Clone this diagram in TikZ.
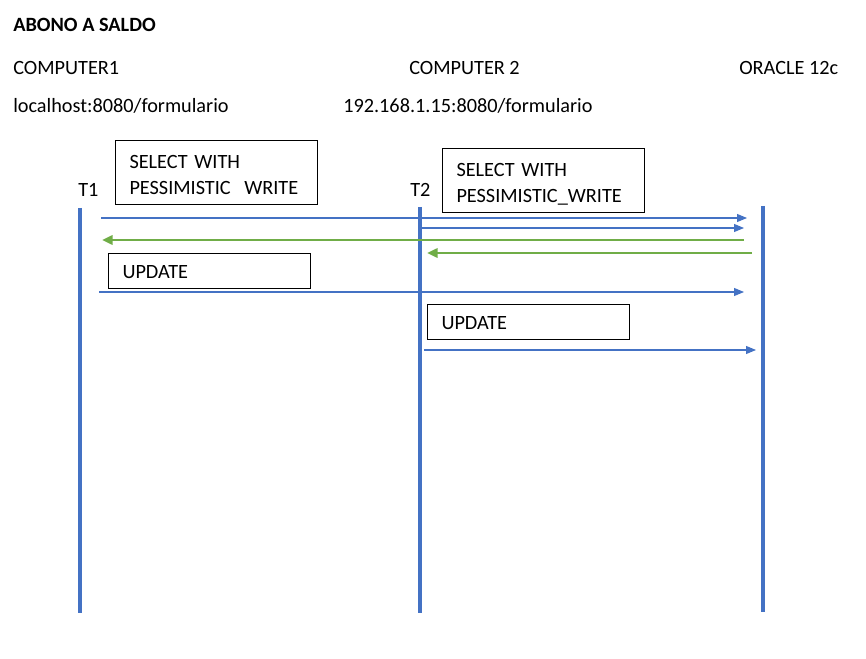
\documentclass[tikz,border=0pt]{standalone}
\usepackage{fontspec}
\setmainfont{Carlito}
\usetikzlibrary{arrows.meta, positioning}
\definecolor{lineblue}{HTML}{4472C4}
\definecolor{linegreen}{HTML}{70AD47}

\begin{document}
\begin{tikzpicture}[x=0.75pt,y=-0.75pt, font=\fontsize{15.2}{19.5}\selectfont,
    lbl/.style={anchor=base west, inner sep=0pt},
    note/.style={draw, line width=0.75pt, anchor=north west, align=left, text width=130.5pt, inner xsep=10.5pt, inner ysep=0pt},
    lifeline/.style={draw=lineblue, line width=2.4pt},
    req/.style={draw=lineblue, line width=0.8pt, -{Triangle[length=7.5pt,width=6pt]}},
    resp/.style={draw=linegreen, line width=1.9pt, -{Triangle[length=8pt,width=7pt]}}]
    \useasboundingbox (0,0) rectangle (866,659);
    \node[lbl, font=\fontsize{15.2}{19.5}\selectfont\bfseries] (title) at (13,32) {ABONO A SALDO};
    \node[lbl] (pc1) at (13,75) {COMPUTER1};
    \node[lbl] (pc2) at (409,75) {COMPUTER 2};
    \node[lbl] (db) at (739,75) {ORACLE 12c};
    \node[lbl] (url1) at (13,113) {localhost:8080/formulario};
    \node[lbl] (url2) at (343,113) {192.168.1.15:8080/formulario};
    \node[lbl] (t1) at (78,197) {T1};
    \node[lbl] (t2) at (410,197) {T2};
    \node[note, minimum height=48pt, text height=9pt, text depth=15pt] (sel1) at (115,140) {SELECT WITH\\PESSIMISTIC\ \ WRITE};
    \node[note, minimum height=48pt, text height=9pt, text depth=15pt] (sel2) at (442,148) {SELECT WITH\\PESSIMISTIC\_WRITE};
    \node[note, minimum height=26.25pt, text height=18pt, text depth=6.75pt] (upd1) at (108,253) {UPDATE};
    \node[note, minimum height=26.25pt, text height=18pt, text depth=6.75pt] (upd2) at (427,304) {UPDATE};
    \foreach \n/\x/\y in {t1top/80/208, t1bot/80/613, t2top/420/207, t2bot/420/613, dbtop/763/206, dbbot/763/612} {
        \coordinate (\n) at (\x,\y);
    }
    \draw[lifeline] (t1top) -- (t1bot);
    \draw[lifeline] (t2top) -- (t2bot);
    \draw[lifeline] (dbtop) -- (dbbot);
    \foreach \n/\x/\y in {m1a/101/218, m1b/747/218, m2a/422/228, m2b/744/228,
                          g1a/744/240, g1b/102/240, g2a/752/253, g2b/427/253,
                          m3a/99/292, m3b/744/292, m4a/424/350, m4b/756/350} {
        \coordinate (\n) at (\x,\y);
    }
    \draw[req] (m1a) -- (m1b);
    \draw[req] (m2a) -- (m2b);
    \draw[resp] (g1a) -- (g1b);
    \draw[resp] (g2a) -- (g2b);
    \draw[req] (m3a) -- (m3b);
    \draw[req] (m4a) -- (m4b);
\end{tikzpicture}
\end{document}
